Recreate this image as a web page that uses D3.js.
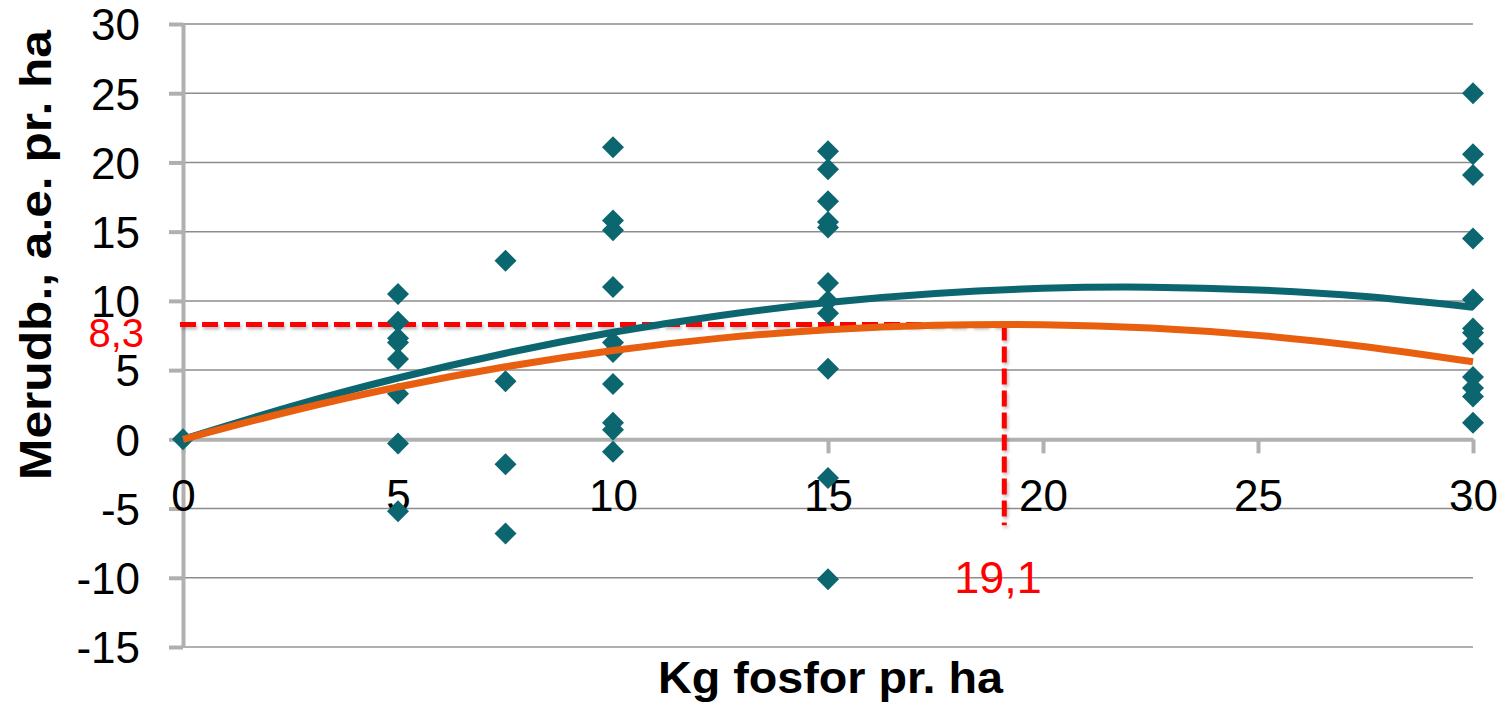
<!DOCTYPE html>
<html>
<head>
<meta charset="utf-8">
<script src="https://cdn.jsdelivr.net/npm/d3@7"></script>
<style>
	body { margin: 0; background: #fff; }
	text { font-family: "Liberation Sans", Arial, sans-serif; }
</style>
</head>
<body>
<svg id="chart"></svg>
<script>
// observed points (kg P per ha, merudbytte)
const pointX = [0,
	5, 5, 5, 5, 5, 5, 5, 5,
	7.5, 7.5, 7.5, 7.5,
	10, 10, 10, 10, 10, 10, 10, 10, 10, 10,
	15, 15, 15, 15, 15, 15, 15, 15, 15, 15, 15,
	30, 30, 30, 30, 30, 30, 30, 30, 30, 30, 30, 30];
const pointY = [0,
	10.5, 8.5, 7.3, 7.0, 5.8, 3.3, -0.3, -5.2,
	12.9, 4.2, -1.8, -6.8,
	21.1, 15.8, 15.1, 11.0, 7.0, 6.3, 4.0, 1.2, 0.7, -0.9,
	20.8, 19.5, 17.2, 15.7, 15.3, 11.3, 10.0, 9.1, 5.1, -2.8, -10.1,
	25.0, 20.6, 19.1, 14.5, 10.1, 8.0, 7.7, 6.9, 4.5, 3.7, 3.1, 1.2];

// trend curves
const curveX = [0, 2.5, 5, 7.5, 10, 12.5, 15, 17.5, 20, 22.5, 25, 27.5, 30];
const tealY = [0, 2.36, 4.43, 6.22, 7.73, 8.95, 9.89, 10.54, 10.91, 10.99, 10.79, 10.31, 9.54];
const orangeY = [0, 2.03, 3.78, 5.24, 6.42, 7.31, 7.92, 8.24, 8.28, 8.04, 7.51, 6.69, 5.60];

// optimum marker
const optX = 19.1, optY = 8.3, optDropTo = -6.2;
const optXLabel = '19,1', optYLabel = '8,3';

const xTicks = [0, 5, 10, 15, 20, 25, 30];
const yTicks = [-15, -10, -5, 0, 5, 10, 15, 20, 25, 30];

const W = 1502, H = 704,
	plotLeft = 183, plotRight = 1473, plotTop = 24, plotBottom = 647;

const teal = '#0b6670', orange = '#e8600f', red = '#ff0000';

const svg = d3.select('svg#chart')
	.attr('width', W)
	.attr('height', H);

// soft shadow like the dashed lines in the original
const defs = svg.append('defs');
defs.append('filter')
	.attr('id', 'shadow')
	.attr('x', '-20%').attr('y', '-20%')
	.attr('width', '140%').attr('height', '140%')
	.append('feDropShadow')
	.attr('dx', 1.5).attr('dy', 2.5)
	.attr('stdDeviation', 1.5)
	.attr('flood-color', '#000')
	.attr('flood-opacity', 0.25);

const x = d3.scaleLinear().domain([0, 30]).range([plotLeft, plotRight]);
const y = d3.scaleLinear().domain([-15, 30]).range([plotBottom, plotTop]);
const fmt = d => String(d); // plain hyphen minus like the original

// grid
svg.append('g')
	.selectAll('line')
	.data(yTicks.filter(d => d !== 0 && d !== -15))
	.join('line')
	.attr('x1', plotLeft).attr('x2', plotRight)
	.attr('y1', d => y(d)).attr('y2', d => y(d))
	.style('stroke', '#8c8c8c')
	.style('stroke-width', 1.5);

// bottom line of plot area
svg.append('line')
	.attr('x1', plotLeft).attr('x2', plotRight)
	.attr('y1', plotBottom).attr('y2', plotBottom)
	.style('stroke', '#b0b0b0')
	.style('stroke-width', 2);

// y axis
const yAxis = svg.append('g')
	.attr('transform', `translate(${plotLeft},0)`)
	.call(d3.axisLeft(y).tickValues(yTicks).tickFormat(fmt).tickSize(14).tickSizeOuter(0).tickPadding(29));
yAxis.select('.domain').style('stroke', '#b0b0b0').style('stroke-width', 4);
yAxis.selectAll('.tick line').style('stroke', '#b0b0b0').style('stroke-width', 4);
yAxis.selectAll('.tick text')
	.style('font-size', '44px')
	.style('fill', '#000')
	.attr('dy', '0.36em');

// x axis at zero
const xAxis = svg.append('g')
	.attr('transform', `translate(0,${y(0)})`)
	.call(d3.axisBottom(x).tickValues(xTicks).tickFormat(fmt).tickSize(14).tickSizeOuter(0).tickPadding(26));
xAxis.select('.domain').style('stroke', '#b0b0b0').style('stroke-width', 4);
xAxis.selectAll('.tick line').style('stroke', '#b0b0b0').style('stroke-width', 4);
xAxis.selectAll('.tick text')
	.style('font-size', '44px')
	.style('fill', '#000');

// dashed optimum lines
const dashG = svg.append('g')
	.attr('filter', 'url(#shadow)')
	.style('stroke', red)
	.style('stroke-width', 5)
	.style('stroke-dasharray', '16 6')
	.style('fill', 'none');
dashG.append('line')
	.attr('x1', plotLeft - 3).attr('x2', x(optX))
	.attr('y1', y(optY)).attr('y2', y(optY));
dashG.append('line')
	.attr('x1', x(optX)).attr('x2', x(optX))
	.attr('y1', y(optY)).attr('y2', y(optDropTo));

// points
svg.append('g')
	.selectAll('path')
	.data(d3.zip(pointX, pointY))
	.join('path')
	.attr('transform', d => `translate(${x(d[0])},${y(d[1])})`)
	.attr('d', 'M0,-11L11,0L0,11L-11,0Z')
	.style('fill', teal);

// trend curves
const line = d3.line()
	.x(d => x(d[0]))
	.y(d => y(d[1]))
	.curve(d3.curveNatural);

svg.append('path')
	.datum(d3.zip(curveX, tealY))
	.attr('d', line)
	.style('fill', 'none')
	.style('stroke', teal)
	.style('stroke-width', 7);

svg.append('path')
	.datum(d3.zip(curveX, orangeY))
	.attr('d', line)
	.style('fill', 'none')
	.style('stroke', orange)
	.style('stroke-width', 7);

// red labels
svg.append('text')
	.attr('x', 144).attr('y', 347)
	.attr('text-anchor', 'end')
	.style('font-size', '40px')
	.style('fill', red)
	.text(optYLabel);
svg.append('text')
	.attr('x', 998).attr('y', 593)
	.attr('text-anchor', 'middle')
	.style('font-size', '45px')
	.style('fill', red)
	.text(optXLabel);

// axis titles
svg.append('text')
	.attr('x', 658).attr('y', 693)
	.attr('textLength', 345)
	.attr('lengthAdjust', 'spacingAndGlyphs')
	.style('font-size', '44px')
	.style('font-weight', 'bold')
	.text('Kg fosfor pr. ha');
svg.append('text')
	.attr('transform', 'translate(51,480) rotate(-90)')
	.attr('textLength', 450)
	.attr('lengthAdjust', 'spacingAndGlyphs')
	.style('font-size', '44px')
	.style('font-weight', 'bold')
	.text('Merudb., a.e. pr. ha');
</script>
</body>
</html>
